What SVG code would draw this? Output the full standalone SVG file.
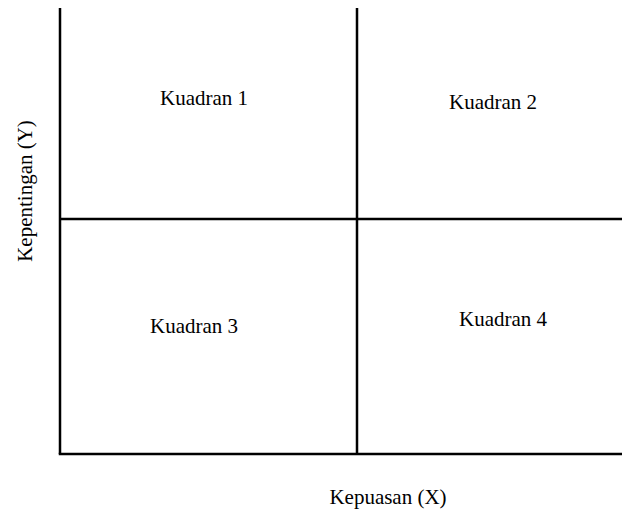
<svg xmlns="http://www.w3.org/2000/svg" width="622" height="516" viewBox="0 0 622 516">
<style>
.ln{stroke:#000;stroke-width:2.5;fill:none}
text{font-family:"Liberation Serif","Times New Roman",serif;font-size:21px;fill:#000}
</style>
<rect width="622" height="516" fill="#fff"/>
<g id="connectors">
<line class="ln" x1="60" y1="8" x2="60" y2="454"/>
<line class="ln" x1="58.75" y1="454" x2="622" y2="454"/>
<line class="ln" x1="357" y1="8" x2="357" y2="454"/>
<line class="ln" x1="60" y1="219" x2="622" y2="219"/>
</g>
<g id="q1"><text x="204" y="105" text-anchor="middle">Kuadran 1</text></g>
<g id="q2"><text x="493" y="109" text-anchor="middle">Kuadran 2</text></g>
<g id="q3"><text x="194" y="333" text-anchor="middle">Kuadran 3</text></g>
<g id="q4"><text x="503" y="326" text-anchor="middle">Kuadran 4</text></g>
<g id="xlabel"><text x="388" y="504" text-anchor="middle">Kepuasan (X)</text></g>
<g id="ylabel"><text transform="translate(32,191) rotate(-90)" text-anchor="middle">Kepentingan (Y)</text></g>
</svg>
